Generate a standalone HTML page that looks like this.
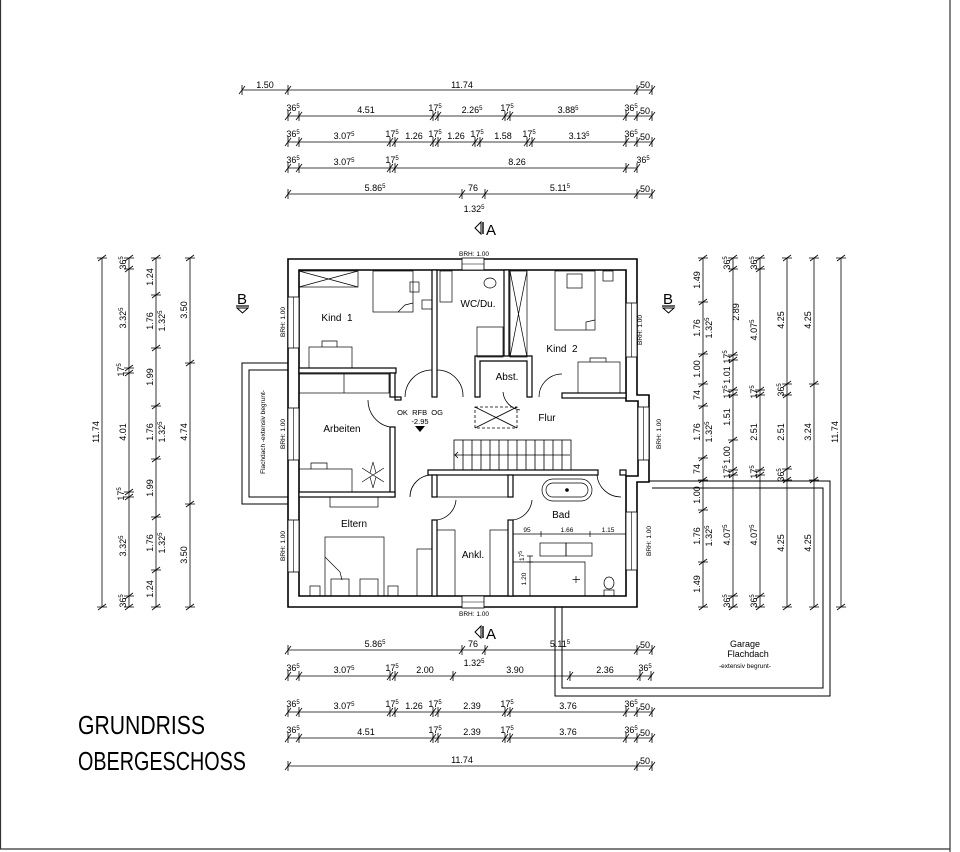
<!DOCTYPE html>
<html><head><meta charset="utf-8"><style>
html,body{margin:0;padding:0;background:#fff}
svg{display:block}
text{font-family:"Liberation Sans Narrow","Liberation Sans",sans-serif;fill:#000}
.d{font-size:9px}
.r{font-size:10px}
.s{font-size:6px}
</style></head><body>
<svg width="960" height="852" viewBox="0 0 960 852" xmlns="http://www.w3.org/2000/svg">
<defs>
<path id="t" d="M0,-5V5M-3,4L3,-4" stroke="#000" stroke-width="0.8" fill="none"/>
<path id="v" d="M-5,0H5M-4,3L4,-3" stroke="#000" stroke-width="0.8" fill="none"/>
</defs>
<rect x="0" y="0" width="960" height="852" fill="#fff"/>
<g stroke="#333" stroke-width="1.2"><line x1="950" y1="0" x2="950" y2="852"/><line x1="0" y1="849" x2="950" y2="849"/><line x1="0.5" y1="0" x2="0.5" y2="849"/></g>

<!-- TOP DIMENSIONS -->
<g stroke="#000" stroke-width="0.8">
<line x1="242" y1="90" x2="652" y2="90"/>
<line x1="288" y1="116" x2="652" y2="116"/>
<line x1="288" y1="142" x2="652" y2="142"/>
<line x1="288" y1="168" x2="637" y2="168"/>
<line x1="288" y1="194" x2="652" y2="194"/>
<line x1="288" y1="650" x2="652" y2="650"/>
<line x1="288" y1="676" x2="652" y2="676"/>
<line x1="288" y1="712" x2="652" y2="712"/>
<line x1="288" y1="738" x2="652" y2="738"/>
<line x1="288" y1="766" x2="652" y2="766"/>
</g>
<g>
<use href="#t" x="242" y="90"/><use href="#t" x="288" y="90"/><use href="#t" x="637" y="90"/><use href="#t" x="652" y="90"/>
<use href="#t" x="288" y="116"/><use href="#t" x="299" y="116"/><use href="#t" x="433" y="116"/><use href="#t" x="438" y="116"/><use href="#t" x="505" y="116"/><use href="#t" x="510" y="116"/><use href="#t" x="626" y="116"/><use href="#t" x="637" y="116"/><use href="#t" x="652" y="116"/>
<use href="#t" x="288" y="142"/><use href="#t" x="299" y="142"/><use href="#t" x="390" y="142"/><use href="#t" x="395" y="142"/><use href="#t" x="433" y="142"/><use href="#t" x="438" y="142"/><use href="#t" x="475" y="142"/><use href="#t" x="480" y="142"/><use href="#t" x="527" y="142"/><use href="#t" x="532" y="142"/><use href="#t" x="626" y="142"/><use href="#t" x="637" y="142"/><use href="#t" x="652" y="142"/>
<use href="#t" x="288" y="168"/><use href="#t" x="299" y="168"/><use href="#t" x="390" y="168"/><use href="#t" x="395" y="168"/><use href="#t" x="626" y="168"/><use href="#t" x="637" y="168"/>
<use href="#t" x="288" y="194"/><use href="#t" x="462" y="194"/><use href="#t" x="485" y="194"/><use href="#t" x="637" y="194"/><use href="#t" x="652" y="194"/>
<use href="#t" x="288" y="650"/><use href="#t" x="462" y="650"/><use href="#t" x="485" y="650"/><use href="#t" x="637" y="650"/><use href="#t" x="652" y="650"/>
<use href="#t" x="288" y="676"/><use href="#t" x="299" y="676"/><use href="#t" x="390" y="676"/><use href="#t" x="395" y="676"/><use href="#t" x="453" y="676"/><use href="#t" x="570" y="676"/><use href="#t" x="640" y="676"/><use href="#t" x="651" y="676"/>
<use href="#t" x="288" y="712"/><use href="#t" x="299" y="712"/><use href="#t" x="390" y="712"/><use href="#t" x="395" y="712"/><use href="#t" x="433" y="712"/><use href="#t" x="438" y="712"/><use href="#t" x="505" y="712"/><use href="#t" x="510" y="712"/><use href="#t" x="626" y="712"/><use href="#t" x="637" y="712"/><use href="#t" x="652" y="712"/>
<use href="#t" x="288" y="738"/><use href="#t" x="299" y="738"/><use href="#t" x="433" y="738"/><use href="#t" x="438" y="738"/><use href="#t" x="505" y="738"/><use href="#t" x="510" y="738"/><use href="#t" x="626" y="738"/><use href="#t" x="637" y="738"/><use href="#t" x="652" y="738"/>
<use href="#t" x="288" y="766"/><use href="#t" x="637" y="766"/><use href="#t" x="652" y="766"/>
</g>
<g class="d" text-anchor="middle">
<text x="265" y="88">1.50</text><text x="462" y="88">11.74</text><text x="645" y="88">50</text>
<text x="293" y="111">36<tspan class="s" dy="-3">5</tspan></text><text x="366" y="113">4.51</text><text x="435" y="111">17<tspan class="s" dy="-3">5</tspan></text><text x="472" y="113">2.26<tspan class="s" dy="-3">5</tspan></text><text x="507" y="111">17<tspan class="s" dy="-3">5</tspan></text><text x="568" y="113">3.88<tspan class="s" dy="-3">5</tspan></text><text x="631" y="111">36<tspan class="s" dy="-3">5</tspan></text><text x="645" y="114">50</text>
<text x="293" y="137">36<tspan class="s" dy="-3">5</tspan></text><text x="344" y="139">3.07<tspan class="s" dy="-3">5</tspan></text><text x="392" y="137">17<tspan class="s" dy="-3">5</tspan></text><text x="414" y="139">1.26</text><text x="435" y="137">17<tspan class="s" dy="-3">5</tspan></text><text x="456" y="139">1.26</text><text x="477" y="137">17<tspan class="s" dy="-3">5</tspan></text><text x="503" y="139">1.58</text><text x="529" y="137">17<tspan class="s" dy="-3">5</tspan></text><text x="579" y="139">3.13<tspan class="s" dy="-3">5</tspan></text><text x="631" y="137">36<tspan class="s" dy="-3">5</tspan></text><text x="645" y="140">50</text>
<text x="293" y="163">36<tspan class="s" dy="-3">5</tspan></text><text x="344" y="165">3.07<tspan class="s" dy="-3">5</tspan></text><text x="392" y="163">17<tspan class="s" dy="-3">5</tspan></text><text x="517" y="165">8.26</text><text x="643" y="163">36<tspan class="s" dy="-3">5</tspan></text>
<text x="375" y="191">5.86<tspan class="s" dy="-3">5</tspan></text><text x="473" y="191">76</text><text x="560" y="191">5.11<tspan class="s" dy="-3">5</tspan></text><text x="645" y="192">50</text><text x="474" y="212">1.32<tspan class="s" dy="-3">5</tspan></text>
<text x="375" y="647">5.86<tspan class="s" dy="-3">5</tspan></text><text x="473" y="647">76</text><text x="560" y="647">5.11<tspan class="s" dy="-3">5</tspan></text><text x="645" y="648">50</text><text x="474" y="666">1.32<tspan class="s" dy="-3">5</tspan></text>
<text x="293" y="671">36<tspan class="s" dy="-3">5</tspan></text><text x="344" y="673">3.07<tspan class="s" dy="-3">5</tspan></text><text x="392" y="671">17<tspan class="s" dy="-3">5</tspan></text><text x="425" y="673">2.00</text><text x="515" y="673">3.90</text><text x="605" y="673">2.36</text><text x="645" y="671">36<tspan class="s" dy="-3">5</tspan></text>
<text x="293" y="707">36<tspan class="s" dy="-3">5</tspan></text><text x="344" y="709">3.07<tspan class="s" dy="-3">5</tspan></text><text x="392" y="707">17<tspan class="s" dy="-3">5</tspan></text><text x="414" y="709">1.26</text><text x="435" y="707">17<tspan class="s" dy="-3">5</tspan></text><text x="472" y="709">2.39</text><text x="507" y="707">17<tspan class="s" dy="-3">5</tspan></text><text x="568" y="709">3.76</text><text x="631" y="707">36<tspan class="s" dy="-3">5</tspan></text><text x="645" y="710">50</text>
<text x="293" y="733">36<tspan class="s" dy="-3">5</tspan></text><text x="366" y="735">4.51</text><text x="435" y="733">17<tspan class="s" dy="-3">5</tspan></text><text x="472" y="735">2.39</text><text x="507" y="733">17<tspan class="s" dy="-3">5</tspan></text><text x="568" y="735">3.76</text><text x="631" y="733">36<tspan class="s" dy="-3">5</tspan></text><text x="645" y="736">50</text>
<text x="462" y="763">11.74</text><text x="645" y="764">50</text>
</g>

<!-- Section markers -->
<g font-size="15">
<path d="M481,222 L475,228 L481,234 Z" fill="none" stroke="#000" stroke-width="1"/><line x1="483" y1="222" x2="483" y2="234" stroke="#000" stroke-width="1.4"/><text x="486" y="235">A</text>
<path d="M481,626 L475,632 L481,638 Z" fill="none" stroke="#000" stroke-width="1"/><line x1="483" y1="626" x2="483" y2="638" stroke="#000" stroke-width="1.4"/><text x="486" y="639">A</text>
<text x="237" y="304">B</text><line x1="236" y1="306" x2="249" y2="306" stroke="#000" stroke-width="1.2"/><path d="M237,308 L248,308 L242.5,313 Z" fill="none" stroke="#000" stroke-width="1"/>
<text x="663" y="304">B</text><line x1="662" y1="306" x2="675" y2="306" stroke="#000" stroke-width="1.2"/><path d="M663,308 L674,308 L668.5,313 Z" fill="none" stroke="#000" stroke-width="1"/>
</g>

<!-- LEFT DIMENSIONS -->
<g stroke="#000" stroke-width="0.8">
<line x1="102" y1="258" x2="102" y2="607"/><line x1="129" y1="258" x2="129" y2="607"/><line x1="156" y1="258" x2="156" y2="607"/><line x1="190" y1="258" x2="190" y2="607"/>
<line x1="703" y1="258" x2="703" y2="607"/><line x1="733" y1="258" x2="733" y2="607"/><line x1="760" y1="258" x2="760" y2="607"/><line x1="787" y1="258" x2="787" y2="607"/><line x1="814" y1="258" x2="814" y2="607"/><line x1="841" y1="258" x2="841" y2="607"/>
</g>
<g>
<use href="#v" x="102" y="258"/><use href="#v" x="102" y="607"/>
<use href="#v" x="129" y="258"/><use href="#v" x="129" y="269"/><use href="#v" x="129" y="368"/><use href="#v" x="129" y="373"/><use href="#v" x="129" y="492"/><use href="#v" x="129" y="497"/><use href="#v" x="129" y="596"/><use href="#v" x="129" y="607"/>
<use href="#v" x="156" y="258"/><use href="#v" x="156" y="295"/><use href="#v" x="156" y="348"/><use href="#v" x="156" y="406"/><use href="#v" x="156" y="459"/><use href="#v" x="156" y="517"/><use href="#v" x="156" y="570"/><use href="#v" x="156" y="607"/>
<use href="#v" x="190" y="258"/><use href="#v" x="190" y="363"/><use href="#v" x="190" y="504"/><use href="#v" x="190" y="607"/>
<use href="#v" x="703" y="258"/><use href="#v" x="703" y="302"/><use href="#v" x="703" y="354"/><use href="#v" x="703" y="384"/><use href="#v" x="703" y="406"/><use href="#v" x="703" y="458"/><use href="#v" x="703" y="480"/><use href="#v" x="703" y="510"/><use href="#v" x="703" y="562"/><use href="#v" x="703" y="607"/>
<use href="#v" x="733" y="258"/><use href="#v" x="733" y="269"/><use href="#v" x="733" y="355"/><use href="#v" x="733" y="360"/><use href="#v" x="733" y="390"/><use href="#v" x="733" y="395"/><use href="#v" x="733" y="440"/><use href="#v" x="733" y="470"/><use href="#v" x="733" y="475"/><use href="#v" x="733" y="596"/><use href="#v" x="733" y="607"/>
<use href="#v" x="760" y="258"/><use href="#v" x="760" y="269"/><use href="#v" x="760" y="390"/><use href="#v" x="760" y="395"/><use href="#v" x="760" y="470"/><use href="#v" x="760" y="475"/><use href="#v" x="760" y="596"/><use href="#v" x="760" y="607"/>
<use href="#v" x="787" y="258"/><use href="#v" x="787" y="384"/><use href="#v" x="787" y="395"/><use href="#v" x="787" y="469"/><use href="#v" x="787" y="480"/><use href="#v" x="787" y="607"/>
<use href="#v" x="814" y="258"/><use href="#v" x="814" y="384"/><use href="#v" x="814" y="480"/><use href="#v" x="814" y="607"/>
<use href="#v" x="841" y="258"/><use href="#v" x="841" y="607"/>
</g>
<g class="d" text-anchor="middle">
<text transform="translate(99,432) rotate(-90)">11.74</text>
<text transform="translate(126,263) rotate(-90)">36<tspan class="s" dy="-3">5</tspan></text>
<text transform="translate(126,318) rotate(-90)">3.32<tspan class="s" dy="-3">5</tspan></text>
<text transform="translate(124,370) rotate(-90)">17<tspan class="s" dy="-3">5</tspan></text>
<text transform="translate(126,432) rotate(-90)">4.01</text>
<text transform="translate(124,494) rotate(-90)">17<tspan class="s" dy="-3">5</tspan></text>
<text transform="translate(126,546) rotate(-90)">3.32<tspan class="s" dy="-3">5</tspan></text>
<text transform="translate(126,601) rotate(-90)">36<tspan class="s" dy="-3">5</tspan></text>
<text transform="translate(153,277) rotate(-90)">1.24</text>
<text transform="translate(153,321) rotate(-90)">1.76</text>
<text transform="translate(153,377) rotate(-90)">1.99</text>
<text transform="translate(153,432) rotate(-90)">1.76</text>
<text transform="translate(153,488) rotate(-90)">1.99</text>
<text transform="translate(153,543) rotate(-90)">1.76</text>
<text transform="translate(153,589) rotate(-90)">1.24</text>
<text transform="translate(165,321) rotate(-90)">1.32<tspan class="s" dy="-3">5</tspan></text>
<text transform="translate(165,432) rotate(-90)">1.32<tspan class="s" dy="-3">5</tspan></text>
<text transform="translate(165,543) rotate(-90)">1.32<tspan class="s" dy="-3">5</tspan></text>
<text transform="translate(187,310) rotate(-90)">3.50</text>
<text transform="translate(187,432) rotate(-90)">4.74</text>
<text transform="translate(187,555) rotate(-90)">3.50</text>

<text transform="translate(700,280) rotate(-90)">1.49</text>
<text transform="translate(700,328) rotate(-90)">1.76</text>
<text transform="translate(700,369) rotate(-90)">1.00</text>
<text transform="translate(700,395) rotate(-90)">74</text>
<text transform="translate(700,432) rotate(-90)">1.76</text>
<text transform="translate(700,469) rotate(-90)">74</text>
<text transform="translate(700,495) rotate(-90)">1.00</text>
<text transform="translate(700,536) rotate(-90)">1.76</text>
<text transform="translate(700,584) rotate(-90)">1.49</text>
<text transform="translate(712,328) rotate(-90)">1.32<tspan class="s" dy="-3">5</tspan></text>
<text transform="translate(712,432) rotate(-90)">1.32<tspan class="s" dy="-3">5</tspan></text>
<text transform="translate(712,536) rotate(-90)">1.32<tspan class="s" dy="-3">5</tspan></text>
<text transform="translate(730,263) rotate(-90)">36<tspan class="s" dy="-3">5</tspan></text>
<text transform="translate(739,312) rotate(-90)">2.89</text>
<text transform="translate(730,357) rotate(-90)">17<tspan class="s" dy="-3">5</tspan></text>
<text transform="translate(730,375) rotate(-90)">1.01</text>
<text transform="translate(730,392) rotate(-90)">17<tspan class="s" dy="-3">5</tspan></text>
<text transform="translate(730,417) rotate(-90)">1.51</text>
<text transform="translate(730,455) rotate(-90)">1.00</text>
<text transform="translate(730,472) rotate(-90)">17<tspan class="s" dy="-3">5</tspan></text>
<text transform="translate(730,535) rotate(-90)">4.07<tspan class="s" dy="-3">5</tspan></text>
<text transform="translate(730,601) rotate(-90)">36<tspan class="s" dy="-3">5</tspan></text>
<text transform="translate(757,263) rotate(-90)">36<tspan class="s" dy="-3">5</tspan></text>
<text transform="translate(757,330) rotate(-90)">4.07<tspan class="s" dy="-3">5</tspan></text>
<text transform="translate(757,392) rotate(-90)">17<tspan class="s" dy="-3">5</tspan></text>
<text transform="translate(757,432) rotate(-90)">2.51</text>
<text transform="translate(757,472) rotate(-90)">17<tspan class="s" dy="-3">5</tspan></text>
<text transform="translate(757,535) rotate(-90)">4.07<tspan class="s" dy="-3">5</tspan></text>
<text transform="translate(757,601) rotate(-90)">36<tspan class="s" dy="-3">5</tspan></text>
<text transform="translate(784,320) rotate(-90)">4.25</text>
<text transform="translate(784,390) rotate(-90)">36<tspan class="s" dy="-3">5</tspan></text>
<text transform="translate(784,432) rotate(-90)">2.51</text>
<text transform="translate(784,475) rotate(-90)">36<tspan class="s" dy="-3">5</tspan></text>
<text transform="translate(784,543) rotate(-90)">4.25</text>
<text transform="translate(811,320) rotate(-90)">4.25</text>
<text transform="translate(811,432) rotate(-90)">3.24</text>
<text transform="translate(811,543) rotate(-90)">4.25</text>
<text transform="translate(838,432) rotate(-90)">11.74</text>
</g>

<!-- Flachdach left -->
<g fill="none" stroke="#000" stroke-width="1">
<path d="M288,363 H242 V504 H288"/><path d="M288,370 H249 V497 H288"/>
<!-- Garage -->
<path d="M649,481 H830 V696 H555 V607"/><path d="M652,488 H823 V688 H562 V607"/>
</g>
<text transform="translate(265,432) rotate(-90)" font-size="6.5" text-anchor="middle">Flachdach  -extensiv begrunt-</text>
<g font-size="9" text-anchor="middle"><text x="745" y="647">Garage</text><text x="748" y="657">Flachdach</text><text x="745" y="668" font-size="6.5">-extensiv begrunt-</text></g>

<!-- Outer walls -->
<path d="M288,259 H637 V395 H649 V482 H637 V607 H288 Z M299,270 V596 H626 V476 H638 V401 H626 V270 Z" fill="#fff" fill-rule="evenodd" stroke="#000" stroke-width="1.6"/>
<!-- Windows -->
<g fill="#fff" stroke="#000" stroke-width="0.8">
<rect x="462" y="258" width="22" height="12"/><rect x="462" y="596" width="22" height="12"/>
<rect x="288" y="297" width="11" height="51"/><rect x="288" y="408" width="11" height="52"/><rect x="288" y="520" width="11" height="52"/>
<rect x="626" y="303" width="11" height="54"/><rect x="638" y="407" width="11" height="53"/><rect x="626" y="512" width="11" height="58"/>
</g>
<g stroke="#000" stroke-width="0.6">
<line x1="462" y1="264" x2="484" y2="264"/><line x1="462" y1="602" x2="484" y2="602"/>
<line x1="293.5" y1="297" x2="293.5" y2="348"/><line x1="293.5" y1="408" x2="293.5" y2="460"/><line x1="293.5" y1="520" x2="293.5" y2="572"/>
<line x1="631.5" y1="303" x2="631.5" y2="357"/><line x1="643.5" y1="407" x2="643.5" y2="460"/><line x1="631.5" y1="512" x2="631.5" y2="570"/>
</g>
<g font-size="6.5" text-anchor="middle">
<text x="474" y="256">BRH: 1.00</text><text x="474" y="616">BRH: 1.00</text>
<text transform="translate(285,322) rotate(-90)">BRH: 1.00</text><text transform="translate(285,434) rotate(-90)">BRH: 1.00</text><text transform="translate(285,546) rotate(-90)">BRH: 1.00</text>
<text transform="translate(642,330) rotate(-90)">BRH: 1.00</text><text transform="translate(661,434) rotate(-90)">BRH: 1.00</text><text transform="translate(651,541) rotate(-90)">BRH: 1.00</text>
</g>

<!-- Interior walls -->
<g fill="#fff" stroke="#000" stroke-width="1.2">
<rect x="432" y="270" width="5" height="127"/>
<rect x="504" y="270" width="5" height="87"/>
<path d="M475,397 V356 H532 V397 H527 V361 H480 V397 Z"/>
<rect x="299" y="368" width="97" height="5"/>
<rect x="390" y="373" width="5" height="24"/><rect x="390" y="427" width="5" height="70"/>
<rect x="299" y="492" width="96" height="5"/>
<rect x="562" y="393" width="64" height="5"/>
<rect x="428" y="470" width="170" height="5"/><rect x="620" y="470" width="6" height="5"/>
<rect x="432" y="475" width="5" height="22"/><rect x="432" y="520" width="5" height="76"/>
<rect x="508" y="475" width="5" height="22"/><rect x="508" y="520" width="5" height="76"/>
<rect x="395" y="397" width="6" height="3"/>
</g>

<!-- Doors -->
<g fill="none" stroke="#000" stroke-width="0.8">
<path d="M405,397 A27,27 0 0 1 432,370"/>
<path d="M437,370 A26,26 0 0 1 463,397"/>
<path d="M539,397 A23,23 0 0 1 562,374"/>
<path d="M368,400 A27,27 0 0 0 390,427"/>
<path d="M432,475 A22,22 0 0 0 410,497"/>
<path d="M437,520 A22,22 0 0 0 456,500"/>
<path d="M513,520 A22,22 0 0 0 532,500"/>
<path d="M597,475 A24,24 0 0 0 621,497"/>
<path d="M503,392 A20,20 0 0 0 520,410"/>
</g>

<!-- Stairs -->
<g fill="none" stroke="#000" stroke-width="0.8">
<rect x="454" y="440" width="117" height="30"/>
<path d="M463,440V470M472,440V470M481,440V470M490,440V470M499,440V470M508,440V470M517,440V470M526,440V470M535,440V470M544,440V470M553,440V470M562,440V470"/>
<path d="M454,455 H570"/>
<path d="M458,452 L455,455 L458,458"/>
<rect x="475" y="407" width="42" height="21" stroke-dasharray="3,2"/>
<path d="M475,407 L517,428 M517,407 L475,428"/>
</g>
<path d="M415,426 H425 L420,432 Z" fill="#000"/>

<!-- Furniture -->
<g fill="none" stroke="#000" stroke-width="0.7">
<rect x="299" y="271" width="59" height="16"/><path d="M299,271 L358,287 M358,271 L299,287"/>
<rect x="373" y="271" width="40" height="41"/><rect x="410" y="282" width="9" height="10"/><path d="M398,312 L405,305 L413,303"/>
<rect x="422" y="300" width="10" height="9"/>
<rect x="309" y="347" width="43" height="21"/><path d="M322,347 V341 H337 V347"/>
<rect x="440" y="271" width="12" height="31"/>
<ellipse cx="490" cy="283" rx="6" ry="5"/>
<rect x="477" y="327" width="26" height="30"/>
<rect x="510" y="271" width="17" height="86"/><path d="M510,271 L527,357 M527,271 L510,357"/>
<rect x="555" y="271" width="40" height="59"/><rect x="567" y="274" width="15" height="14"/><path d="M586,330 L586,322 L595,320"/>
<rect x="603" y="271" width="10" height="10"/>
<rect x="578" y="362" width="42" height="31"/><path d="M590,362 V358 H606 V362"/>
<rect x="299" y="374" width="90" height="19"/><line x1="344" y1="374" x2="344" y2="393"/>
<rect x="299" y="469" width="53" height="23"/><path d="M311,469 V463 H327 V469"/>
<rect x="330" y="497" width="48" height="10"/>
<rect x="325" y="537" width="59" height="59"/>
<rect x="331" y="579" width="18" height="17"/><rect x="360" y="579" width="18" height="17"/>
<path d="M325,557 L340,572 L342,580"/>
<rect x="310" y="586" width="10" height="10"/><rect x="388" y="586" width="10" height="10"/>
<rect x="417" y="549" width="15" height="47"/>
<rect x="437" y="530" width="18" height="66"/><rect x="490" y="530" width="18" height="66"/>
<line x1="437" y1="497" x2="508" y2="497"/><line x1="437" y1="475" x2="437" y2="497"/>
<rect x="542" y="479" width="50" height="22" rx="11"/><rect x="546" y="483" width="42" height="14" rx="7"/>
<rect x="540" y="543" width="26" height="13"/><rect x="566" y="543" width="26" height="13"/>
<path d="M513,562 H585 V596"/>
<path d="M576,576 V583 M572.5,579.5 H580"/>
<ellipse cx="609" cy="583" rx="5" ry="6"/><rect x="604" y="590" width="10" height="6"/>
<path d="M513,534 H626 M541,531 V537 M590,531 V537"/>
<path d="M530,556 V596 M527,556 H533 M527,562 H533"/>
</g>
<circle cx="567" cy="490" r="1.8" fill="#000"/>
<g stroke="#000" stroke-width="0.6" fill="none">
<path d="M373,462 L376,473 M373,462 L370,473 M362,468 L373,475 M384,468 L373,475 M362,482 L373,475 M384,482 L373,475 M373,488 L376,477 M373,488 L370,477 M365,470 L381,480 M381,470 L365,480"/>
</g>
<g font-size="6.5" text-anchor="middle">
<text x="527" y="532">95</text><text x="567" y="532">1.66</text><text x="608" y="532">1.15</text>
<text transform="translate(524,556) rotate(-90)">17<tspan font-size="5" dy="-2">5</tspan></text>
<text transform="translate(526,579) rotate(-90)">1.20</text>
</g>

<!-- Room labels -->
<g class="r" text-anchor="middle">
<text x="337" y="321">Kind&#160;&#160;1</text>
<text x="478" y="307">WC/Du.</text>
<text x="562" y="352">Kind&#160;&#160;2</text>
<text x="507" y="380">Abst.</text>
<text x="547" y="421">Flur</text>
<text x="342" y="432">Arbeiten</text>
<text x="354" y="527">Eltern</text>
<text x="473" y="558">Ankl.</text>
<text x="561" y="518">Bad</text>
<text x="420" y="415" font-size="7.5">OK&#160; RFB&#160; OG</text>
<text x="420" y="424" font-size="7.5">-2.95</text>
</g>

<!-- Title -->
<g font-size="26" fill="#111">
<text x="78" y="734" textLength="127" lengthAdjust="spacingAndGlyphs">GRUNDRISS</text>
<text x="78" y="770" textLength="168" lengthAdjust="spacingAndGlyphs">OBERGESCHOSS</text>
</g>
</svg>
</body></html>
